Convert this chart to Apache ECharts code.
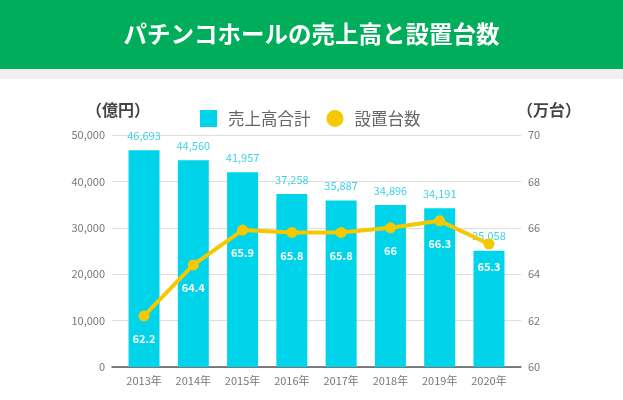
<!DOCTYPE html>
<html><head><meta charset="utf-8">
<script src="https://cdn.jsdelivr.net/npm/echarts@6/dist/echarts.min.js"></script>
<style>html,body{margin:0;padding:0;background:#fff}#c{width:623px;height:400px}</style>
</head><body><div id="c"></div>
<script>
const categories = ['2013年','2014年','2015年','2016年','2017年','2018年','2019年','2020年'];
const sales = [46693, 44560, 41957, 37258, 35887, 34896, 34191, 25058];
const machines = [62.2, 64.4, 65.9, 65.8, 65.8, 66, 66.3, 65.3];
const leftTicks = [0, 10000, 20000, 30000, 40000, 50000];
const rightTicks = [60, 62, 64, 66, 68, 70];
const titleText = 'パチンコホールの売上高と設置台数';
const seriesNames = ['売上高合計', '設置台数'];

const fmt = v => String(v).replace(/\B(?=(\d{3})+(?!\d))/g, ',');
const FONT = '"Noto Sans CJK JP", "Noto Sans", sans-serif';
const chart = echarts.init(document.getElementById('c'), null, {renderer: 'canvas'});
chart.setOption({
  backgroundColor: '#fff',
  textStyle: {fontFamily: FONT},
  animation: false,
  graphic: [
    {type: 'rect', left: 0, top: 0, shape: {width: 623, height: 69}, style: {fill: '#00ad5b'}, z: 0},
    {type: 'rect', left: 0, top: 69, shape: {width: 623, height: 10}, style: {fill: '#f1f1f1'}, z: 0},
    {type: 'text', left: 'center', top: 22, style: {text: titleText, fill: '#fff', font: 'bold 23.5px ' + FONT}, z: 1},
    {type: 'text', left: 86, top: 102, style: {text: '（億円）', fill: '#444', font: 'bold 16px ' + FONT}},
    {type: 'text', left: 517, top: 102, style: {text: '（万台）', fill: '#444', font: 'bold 16px ' + FONT}}
  ],
  legend: {
    top: 105, left: 195,
    itemWidth: 17, itemHeight: 17, itemGap: 16,
    textStyle: {fontSize: 16.5, color: '#666', fontFamily: FONT, padding: [0, 0, 0, 6]},
    data: [{name: seriesNames[0], icon: 'rect'}, {name: seriesNames[1], icon: 'circle'}]
  },
  grid: {left: 112, right: 102, top: 135, bottom: 33, containLabel: false},
  xAxis: {
    type: 'value', min: -0.65, max: 7.65,
    axisLine: {show: true, onZero: false, lineStyle: {color: '#555', width: 1.5}},
    axisTick: {show: false},
    splitLine: {show: false},
    axisLabel: {customValues: [0,1,2,3,4,5,6,7], formatter: v => categories[Math.round(v)], color: '#777', fontSize: 11, margin: 8}
  },
  yAxis: [
    {type: 'value', min: 0, max: 50000, interval: 10000,
     axisLine: {show: false}, axisTick: {show: false},
     splitLine: {lineStyle: {color: '#ddd', width: 1}},
     axisLabel: {formatter: v => fmt(v), color: '#777', fontSize: 11, margin: 7}},
    {type: 'value', min: 60, max: 70, interval: 2,
     axisLine: {show: false}, axisTick: {show: false}, splitLine: {show: false},
     axisLabel: {color: '#777', fontSize: 11, margin: 7}}
  ],
  series: [
    {name: seriesNames[0], type: 'bar', yAxisIndex: 0, barWidth: 31,
     itemStyle: {color: '#00d4ea'},
     label: {show: true, position: 'top', distance: 9, color: '#3fd2e6', fontSize: 11, formatter: p => fmt(p.value[1])},
     data: sales.map((v, i) => [i, v])},
    {name: seriesNames[1], type: 'line', yAxisIndex: 1,
     symbol: 'circle', symbolSize: 11,
     lineStyle: {color: '#f6c800', width: 4},
     itemStyle: {color: '#f6c800'},
     label: {show: true, position: 'bottom', distance: 12, color: '#fff', fontWeight: 'bold', fontSize: 11},
     z: 5,
     data: machines.map((v, i) => [i, v])}
  ]
});
</script></body></html>
